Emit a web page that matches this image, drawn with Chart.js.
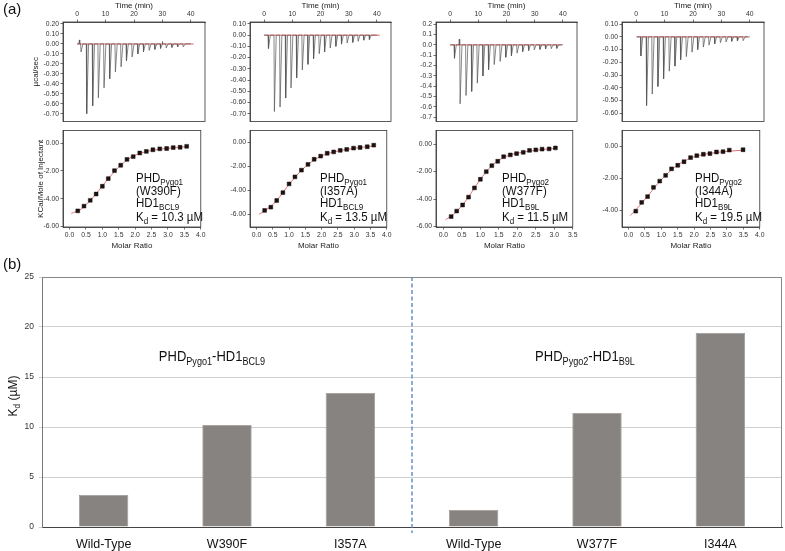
<!DOCTYPE html>
<html>
<head>
<meta charset="utf-8">
<script src="https://cdn.jsdelivr.net/npm/chart.js@4.4.1/dist/chart.umd.min.js"></script>
<style>
body{margin:0;background:#fff;width:785px;height:551px;position:relative;overflow:hidden;font-family:"Liberation Sans",Arial,sans-serif;}
canvas{position:absolute;}
.lbl{position:absolute;color:#111;white-space:nowrap;line-height:1;}
.itc{font-size:11.5px;transform:scaleY(1.12);transform-origin:left top;}
.itc sub,.ann sub{font-size:0.7em;vertical-align:baseline;position:relative;top:0.32em;}
.ann{font-size:13px;transform:scaleY(1.12);transform-origin:center top;}
</style>
</head>
<body>
<canvas id="top1"></canvas><canvas id="bot1"></canvas>
<canvas id="top2"></canvas><canvas id="bot2"></canvas>
<canvas id="top3"></canvas><canvas id="bot3"></canvas>
<canvas id="top4"></canvas><canvas id="bot4"></canvas>
<canvas id="bars"></canvas>
<div class="lbl" style="left:3px;top:1px;font-size:15px">(a)</div>
<div class="lbl" style="left:3px;top:256px;font-size:15px">(b)</div>
<div id="notes"></div>
<script>
// ---- (a) raw ITC traces: injection times (min) and peak heights (µcal/sec)
const timeTicks = ['0', '10', '20', '30', '40'];

const p1InjTime = [1.2, 3.2, 5.3, 7.3, 9.3, 11.3, 13.3, 15.3, 17.2, 19.2, 21.2, 23.2, 25.2, 27.2, 29.2, 31.2, 33.2, 35.2, 37.2];
const p1InjPeak = [-0.08, -0.70, -0.62, -0.54, -0.44, -0.35, -0.28, -0.23, -0.17, -0.13, -0.10, -0.08, -0.065, -0.055, -0.045, -0.04, -0.035, -0.03, -0.03];
const p1Blips = [[0.6, 0.04], [29.9, 0.025]];
const p1RawTicks = ['0.20', '0.10', '0.00', '-0.10', '-0.20', '-0.30', '-0.40', '-0.50', '-0.60', '-0.70'];

const p2InjTime = [1.4, 3.5, 5.5, 7.5, 9.4, 11.4, 13.4, 15.4, 17.4, 19.4, 21.3, 23.3, 25.3, 27.3, 29.3, 31.3, 33.2, 35.2, 37.2];
const p2InjPeak = [-0.12, -0.68, -0.64, -0.56, -0.47, -0.38, -0.31, -0.26, -0.21, -0.165, -0.15, -0.115, -0.10, -0.08, -0.07, -0.065, -0.055, -0.045, -0.04];
const p2Blips = [];
const p2RawTicks = ['0.10', '0.00', '-0.10', '-0.20', '-0.30', '-0.40', '-0.50', '-0.60', '-0.70'];

const p3InjTime = [1.4, 3.4, 5.5, 7.5, 9.5, 11.5, 13.5, 15.5, 17.6, 19.6, 21.6, 23.6, 25.6, 27.7, 29.7, 31.7, 33.7, 35.7, 37.7];
const p3InjPeak = [-0.13, -0.57, -0.49, -0.45, -0.37, -0.30, -0.24, -0.19, -0.16, -0.12, -0.105, -0.08, -0.065, -0.055, -0.048, -0.044, -0.04, -0.037, -0.034];
const p3Blips = [[3.1, 0.055]];
const p3RawTicks = ['0.2', '0.1', '0.0', '-0.1', '-0.2', '-0.3', '-0.4', '-0.5', '-0.6', '-0.7'];

const p4InjTime = [1.5, 3.5, 5.5, 7.5, 9.5, 11.5, 13.5, 15.5, 17.5, 19.5, 21.5, 23.5, 25.5, 27.5, 29.5, 31.5, 33.5, 35.5, 37.5];
const p4InjPeak = [-0.15, -0.54, -0.45, -0.39, -0.33, -0.27, -0.23, -0.18, -0.155, -0.12, -0.10, -0.08, -0.065, -0.055, -0.045, -0.04, -0.035, -0.032, -0.03];
const p4Blips = [];
const p4RawTicks = ['0.10', '0.00', '-0.10', '-0.20', '-0.30', '-0.40', '-0.50', '-0.60'];

const baselineSpan = [[0, 41], [0, 41], [0, 39.6], [0.3, 39.4]];

// ---- (a) integrated heats: molar ratio vs kcal/mol of injectant
const ratioTicks40 = ['0.0', '0.5', '1.0', '1.5', '2.0', '2.5', '3.0', '3.5', '4.0'];
const ratioTicks35 = ['0.0', '0.5', '1.0', '1.5', '2.0', '2.5', '3.0', '3.5'];
const heatTicks6 = ['0.00', '-2.00', '-4.00', '-6.00'];
const heatTicks4 = ['0.00', '-2.00', '-4.00'];

const p1Ratio = [0.25, 0.44, 0.63, 0.81, 1.00, 1.18, 1.37, 1.56, 1.75, 1.94, 2.14, 2.34, 2.54, 2.75, 2.96, 3.16, 3.37, 3.57];
const p1Heat = [-4.87, -4.53, -4.11, -3.66, -3.10, -2.55, -1.98, -1.59, -1.17, -0.97, -0.71, -0.60, -0.48, -0.41, -0.39, -0.32, -0.30, -0.23];
const p1FitRatio = [0.05, 0.3, 0.6, 0.9, 1.2, 1.5, 1.8, 2.1, 2.5, 3.0, 3.6];
const p1FitHeat = [-5.05, -4.82, -4.2, -3.38, -2.5, -1.72, -1.13, -0.78, -0.53, -0.37, -0.25];

const p2Ratio = [0.25, 0.44, 0.62, 0.81, 1.00, 1.18, 1.38, 1.58, 1.77, 1.97, 2.17, 2.37, 2.57, 2.77, 2.98, 3.18, 3.40, 3.60];
const p2Heat = [-5.68, -5.41, -4.85, -4.19, -3.47, -2.88, -2.32, -1.84, -1.41, -1.15, -0.91, -0.80, -0.67, -0.59, -0.48, -0.43, -0.37, -0.24];
const p2FitRatio = [0.08, 0.3, 0.6, 0.9, 1.2, 1.5, 1.8, 2.1, 2.5, 3.0, 3.6];
const p2FitHeat = [-6.0, -5.62, -4.92, -3.85, -2.85, -2.03, -1.42, -1.02, -0.72, -0.5, -0.3];

const p3Ratio = [0.21, 0.36, 0.52, 0.68, 0.84, 1.00, 1.16, 1.31, 1.47, 1.63, 1.81, 1.98, 2.16, 2.33, 2.50, 2.67, 2.86, 3.03];
const p3Heat = [-5.27, -4.87, -4.43, -3.86, -3.19, -2.56, -2.01, -1.57, -1.25, -0.92, -0.79, -0.69, -0.60, -0.46, -0.42, -0.37, -0.35, -0.28];
const p3FitRatio = [0.06, 0.3, 0.6, 0.9, 1.2, 1.5, 1.8, 2.2, 2.6, 3.03];
const p3FitHeat = [-5.5, -5.05, -4.15, -2.95, -1.88, -1.17, -0.8, -0.57, -0.42, -0.31];

const p4Ratio = [0.22, 0.40, 0.58, 0.76, 0.95, 1.13, 1.31, 1.50, 1.69, 1.89, 2.08, 2.28, 2.48, 2.68, 2.88, 3.07, 3.49];
const p4Heat = [-4.04, -3.49, -3.13, -2.55, -2.16, -1.80, -1.39, -1.17, -0.95, -0.69, -0.57, -0.48, -0.44, -0.34, -0.32, -0.22, -0.20];
const p4FitRatio = [0.05, 0.3, 0.6, 0.9, 1.2, 1.5, 1.8, 2.1, 2.5, 3.0, 3.5];
const p4FitHeat = [-4.32, -3.78, -3.05, -2.3, -1.65, -1.15, -0.8, -0.58, -0.42, -0.3, -0.22];

const construct = ['Pygo1', 'Pygo1', 'Pygo2', 'Pygo2'];
const mutation = ['W390F', 'I357A', 'W377F', 'I344A'];
const partner = ['BCL9', 'BCL9', 'B9L', 'B9L'];
const kdText = ['10.3', '13.5', '11.5', '19.5'];

// ---- (b) Kd bar chart
const mutants = ['Wild-Type', 'W390F', 'I357A', 'Wild-Type', 'W377F', 'I344A'];
const kdValues = [3.2, 10.2, 13.4, 1.7, 11.4, 19.4];
const groupNames = [['Pygo1', 'BCL9'], ['Pygo2', 'B9L']];

const FONT = "'Liberation Sans', Arial, sans-serif";
Chart.defaults.font.family = FONT;

// box around the plot area
const frame = {
  id: 'frame',
  afterDraw(chart) {
    const {ctx, chartArea: a} = chart;
    ctx.save();
    ctx.strokeStyle = '#333';
    ctx.lineWidth = 0.8;
    ctx.strokeRect(a.left, a.top, a.right - a.left, a.bottom - a.top);
    ctx.restore();
  }
};

function tracePoints(times, peaks, blips) {
  const ev = times.map((t, i) => [t, peaks[i], 0.8]).concat(blips.map(b => [b[0], b[1], 0.3]));
  ev.sort((a, b) => a[0] - b[0]);
  const pts = [{x: 0, y: 0}];
  ev.forEach(([t, v, w]) => {
    pts.push({x: t, y: 0}, {x: t + 0.15, y: v}, {x: t + w, y: 0});
  });
  pts.push({x: 40, y: 0});
  return pts;
}

function axis(pos, min, max, labels, size, title, titlePad) {
  return {
    type: 'linear', position: pos, min, max,
    afterBuildTicks: s => { s.ticks = labels.map(l => ({value: parseFloat(l)})); },
    afterFit: s => { if (pos === 'left') s.width = size; else s.height = size; },
    ticks: {callback: (v, i) => labels[i], font: {size: 6.8}, color: '#333', padding: 1.5, autoSkip: false, maxRotation: 0},
    grid: {drawOnChartArea: false, drawTicks: true, tickLength: 2.5, color: '#333', lineWidth: 0.7},
    border: {display: true, color: '#333', width: 0.8},
    title: {display: !!title, text: title || '', font: {size: 8}, color: '#222', padding: {top: titlePad || 0, bottom: titlePad || 0}}
  };
}

function makeChart(id, left, top, w, h, pad, scales, datasets) {
  const c = document.getElementById(id);
  c.width = w; c.height = h;
  c.style.left = left + 'px'; c.style.top = top + 'px';
  return new Chart(c, {
    type: 'scatter',
    data: {datasets},
    options: {
      responsive: false, animation: false, events: [],
      layout: {padding: pad},
      plugins: {legend: {display: false}, tooltip: {enabled: false}},
      scales
    },
    plugins: [frame]
  });
}

const panels = [
  {l: 63, r: 205, aw: 60, raw: [-0.777, 0.22, p1RawTicks], inj: [p1InjTime, p1InjPeak, p1Blips],
   heat: [-6.03, 0.9, heatTicks6], ratio: [4.0, ratioTicks40], pts: [p1Ratio, p1Heat], fit: [p1FitRatio, p1FitHeat],
   t1: 'µcal/sec', t2: 'KCal/Mole of Injectant', tx: 136},
  {l: 250, r: 391, aw: 45, raw: [-0.768, 0.117, p2RawTicks], inj: [p2InjTime, p2InjPeak, p2Blips],
   heat: [-7.06, 0.98, heatTicks6], ratio: [4.0, ratioTicks40], pts: [p2Ratio, p2Heat], fit: [p2FitRatio, p2FitHeat], tx: 320},
  {l: 436, r: 577, aw: 45, raw: [-0.74, 0.221, p3RawTicks], inj: [p3InjTime, p3InjPeak, p3Blips],
   heat: [-6.03, 0.98, heatTicks6], ratio: [3.5, ratioTicks35], pts: [p3Ratio, p3Heat], fit: [p3FitRatio, p3FitHeat], tx: 502},
  {l: 622, r: 764, aw: 45, raw: [-0.665, 0.117, p4RawTicks], inj: [p4InjTime, p4InjPeak, p4Blips],
   heat: [-5.03, 1.0, heatTicks4], ratio: [4.0, ratioTicks40], pts: [p4Ratio, p4Heat], fit: [p4FitRatio, p4FitHeat], tx: 695}
];

panels.forEach((p, k) => {
  const w = p.aw + (p.r - p.l) + 2;
  const span = baselineSpan[k];
  makeChart('top' + (k + 1), p.l - p.aw, 0, w, 127, {top: 0, bottom: 1, left: 0, right: 2}, {
    x: axis('top', -5, 45, timeTicks, 22, 'Time (min)', 1.2),
    y: axis('left', p.raw[0], p.raw[1], p.raw[2], p.aw, p.t1, p.aw - 32)
  }, [
    {data: tracePoints(p.inj[0], p.inj[1], p.inj[2]), showLine: true, borderColor: '#555', borderWidth: 0.7, pointRadius: 0},
    {data: span.map(t => ({x: t, y: 0})), showLine: true, borderColor: '#e2504f', borderWidth: 0.9, pointRadius: 0}
  ]);
  makeChart('bot' + (k + 1), p.l - p.aw, 125, w, 126, {top: 1, bottom: 0, left: 0, right: 2}, {
    x: axis('bottom', -0.2, p.ratio[0], p.ratio[1], 24, 'Molar Ratio', 0.3),
    y: axis('left', p.heat[0], p.heat[1], p.heat[2], p.aw, p.t2, p.aw - 27)
  }, [
    {data: p.pts[0].map((x, i) => ({x, y: p.pts[1][i]})), pointStyle: 'rect', pointRadius: 2.7,
     backgroundColor: '#1a1111', borderColor: '#1a1111', borderWidth: 0.5, order: 1},
    {data: p.fit[0].map((x, i) => ({x, y: p.fit[1][i]})), showLine: true, borderColor: '#e2504f', borderWidth: 0.8,
     pointRadius: 0, cubicInterpolationMode: 'monotone', order: 2}
  ]);
});

// annotation text in each isotherm panel
const notes = document.getElementById('notes');
const lineTops = [171.5, 184.5, 197, 210.5];
panels.forEach((p, k) => {
  const lines = [
    'PHD<sub>' + construct[k] + '</sub>',
    '(' + mutation[k] + ')',
    'HD1<sub>' + partner[k] + '</sub>',
    'K<sub>d</sub> = ' + kdText[k] + ' µM'
  ];
  lines.forEach((html, j) => {
    const d = document.createElement('div');
    d.className = 'lbl itc';
    d.style.left = p.tx + 'px';
    d.style.top = lineTops[j] + 'px';
    d.innerHTML = html;
    notes.appendChild(d);
  });
});

// ---- (b)
const barCanvas = document.getElementById('bars');
barCanvas.width = 785; barCanvas.height = 286;
barCanvas.style.left = '0px'; barCanvas.style.top = '265px';

const barDecor = {
  id: 'barDecor',
  afterDatasetsDraw(chart) {
    const {ctx, chartArea: a, scales: {x}} = chart;
    ctx.save();
    ctx.strokeStyle = '#888';
    ctx.lineWidth = 1;
    ctx.beginPath();
    ctx.moveTo(a.left, a.top + 0.5); ctx.lineTo(a.right - 0.5, a.top + 0.5); ctx.lineTo(a.right - 0.5, a.bottom);
    ctx.stroke();
    const xs = (x.getPixelForValue(2) + x.getPixelForValue(3)) / 2;
    ctx.strokeStyle = '#4f7fc0';
    ctx.lineWidth = 1.3;
    ctx.setLineDash([4, 2.5]);
    ctx.beginPath();
    ctx.moveTo(xs, a.top); ctx.lineTo(xs, a.bottom + 6);
    ctx.stroke();
    ctx.restore();
  }
};

const barChart = new Chart(barCanvas, {
  type: 'bar',
  data: {
    labels: mutants,
    datasets: [{
      data: kdValues,
      backgroundColor: '#878381',
      borderColor: '#9c9896',
      borderWidth: 0.8,
      barPercentage: 0.8,
      categoryPercentage: 0.5
    }]
  },
  options: {
    responsive: false, animation: false, events: [],
    layout: {padding: {top: 12, right: 3, left: 0, bottom: 0}},
    plugins: {legend: {display: false}, tooltip: {enabled: false}},
    scales: {
      x: {
        grid: {display: false},
        border: {color: '#444', width: 1},
        ticks: {font: {size: 12.5}, color: '#111', padding: 2, maxRotation: 0},
        afterFit: s => { s.height = 24; }
      },
      y: {
        min: 0, max: 25,
        ticks: {stepSize: 5, font: {size: 8.5}, color: '#333', padding: 5},
        grid: {color: '#d0d0d0', tickLength: 3, lineWidth: 1},
        border: {color: '#777', width: 1},
        afterFit: s => { s.width = 42; }
      }
    }
  },
  plugins: [barDecor]
});

// y title and group labels for (b)
const yt = document.createElement('div');
yt.className = 'lbl';
yt.style.cssText = 'left:13px;top:396px;font-size:12px;transform:translate(-50%,-50%) rotate(-90deg);';
yt.innerHTML = 'K<sub style="font-size:0.7em;vertical-align:baseline;position:relative;top:0.3em">d</sub> (µM)';
notes.appendChild(yt);

const groupX = [212, 585];
groupNames.forEach((g, k) => {
  const d = document.createElement('div');
  d.className = 'lbl ann';
  d.style.left = groupX[k] + 'px';
  d.style.top = '349px';
  d.style.transform = 'translateX(-50%) scaleY(1.12)';
  d.innerHTML = 'PHD<sub>' + g[0] + '</sub>-HD1<sub>' + g[1] + '</sub>';
  notes.appendChild(d);
});
</script>
</body>
</html>
